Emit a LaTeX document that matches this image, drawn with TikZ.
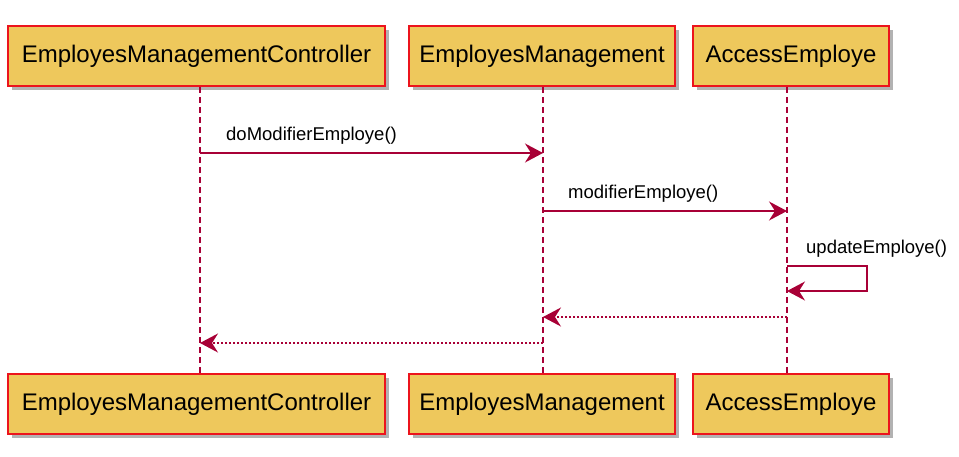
\documentclass[tikz,border=0pt]{standalone}
\usepackage{fontspec}
\setmainfont{Liberation Sans}
\usetikzlibrary{arrows.meta,shadows}
\definecolor{partfill}{RGB}{238,200,92}
\definecolor{partline}{RGB}{236,20,28}
\definecolor{msgline}{RGB}{168,0,54}

\begin{document}
\begin{tikzpicture}[
    x=1pt,y=-1pt,
    part/.style={draw=partline,line width=1.6pt,fill=partfill,minimum height=60pt,inner sep=0pt,
        font=\fontsize{24}{28}\selectfont,
        drop shadow={shadow xshift=4pt,shadow yshift=-4pt,fill=black,opacity=0.3}},
    life/.style={msgline,dash pattern=on 6pt off 4pt,line width=1.3pt},
    msg/.style={msgline,line width=1.5pt,-{Stealth[length=18pt,width=19pt,inset=6pt]}},
    ret/.style={msg,dash pattern=on 2pt off 2pt},
    lbl/.style={font=\fontsize{18.5}{22}\selectfont,anchor=south west,inner sep=0pt}
]
\useasboundingbox (0,0) rectangle (959,456);
% lifeline positions
\coordinate (ctrlL) at (200,0);
\coordinate (mgmtL) at (543,0);
\coordinate (accL) at (787,0);
% participants
\node[part,minimum width=377pt] (ctrl) at (196.5,56) {EmployesManagementController};
\node[part,minimum width=266pt] (mgmt) at (542,56) {EmployesManagement};
\node[part,minimum width=196pt] (acc) at (791,56) {AccessEmploye};
\node[part,minimum width=377pt] (ctrlB) at (196.5,404) {EmployesManagementController};
\node[part,minimum width=266pt] (mgmtB) at (542,404) {EmployesManagement};
\node[part,minimum width=196pt] (accB) at (791,404) {AccessEmploye};
% lifelines
\draw[life] (ctrl.south -| ctrlL) -- (ctrlB.north -| ctrlL);
\draw[life] (mgmt.south -| mgmtL) -- (mgmtB.north -| mgmtL);
\draw[life] (acc.south -| accL) -- (accB.north -| accL);
% messages
\coordinate (m1) at (0,153);
\coordinate (m2) at (0,211);
\coordinate (m3) at (0,266);
\coordinate (m3b) at (0,291);
\coordinate (turn) at (867,0);
\coordinate (r1) at (0,317);
\coordinate (r2) at (0,343);
\draw[msg] (ctrlL |- m1) -- (mgmtL |- m1);
\node[lbl] (lbl1) at (226,145) {doModifierEmploye()};
\draw[msg] (mgmtL |- m2) -- (accL |- m2);
\node[lbl] (lbl2) at (568,203) {modifierEmploye()};
\draw[msg] (accL |- m3) -- (turn |- m3) -- (turn |- m3b) -- (accL |- m3b);
\node[lbl] (lbl3) at (806,258) {updateEmploye()};
\draw[ret] (accL |- r1) -- (mgmtL |- r1);
\draw[ret] (mgmtL |- r2) -- (ctrlL |- r2);
\end{tikzpicture}
\end{document}
